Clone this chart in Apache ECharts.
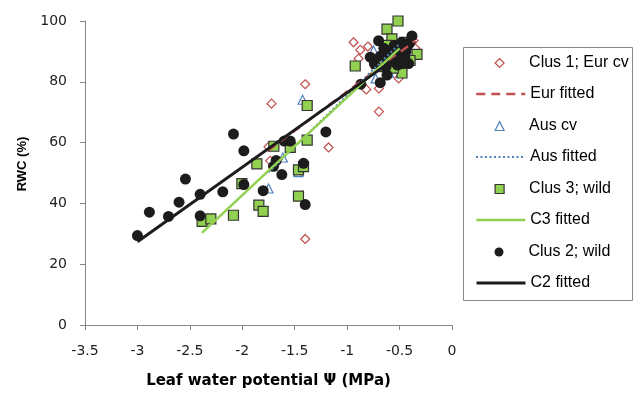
<!DOCTYPE html>
<html><head><meta charset="utf-8">
<script src="https://cdn.jsdelivr.net/npm/echarts@6/dist/echarts.min.js"></script>
<style>html,body{margin:0;padding:0;background:#fff}#c{width:639px;height:394px}</style>
</head><body><div id="c"></div>
<script>
var xTicks = [-3.5,-3,-2.5,-2,-1.5,-1,-0.5,0];
var yTicks = [0,20,40,60,80,100];
var seriesNames = ['Clus 1; Eur cv','Eur fitted','Aus cv','Aus fitted','Clus 3; wild','C3 fitted','Clus 2; wild','C2 fitted'];

var eurCv = [[-1.721,72.8],[-1.40,79.2],[-1.40,28.3],[-1.177,58.4],[-1.75,58.6],[-1.734,54.0],[-0.939,93.0],[-0.875,90.5],[-0.802,91.6],[-0.891,87.6],[-0.818,77.5],[-0.697,77.8],[-0.697,70.2],[-0.509,81.1],[-0.366,93.5],[-0.35,91.0],[-0.60,85.0],[-0.45,88.0],[-0.55,90.0]];
var eurFit = [[-1.75,57.5],[-0.35,93.5]];
var ausCv = [[-1.425,74.1],[-1.613,55.1],[-1.750,44.9],[-1.464,50.3],[-0.729,81.1],[-0.748,90.3],[-0.55,88.0],[-0.45,86.0],[-0.60,83.0]];
var ausFit = [[-1.75,50.2],[-0.5,92.5]];
var clus3 = [[-2.383,34.1],[-2.300,34.9],[-2.084,36.1],[-2.004,46.5],[-1.861,53.0],[-1.842,39.4],[-1.801,37.4],[-1.699,58.8],[-1.543,58.4],[-1.464,51.0],[-1.416,52.1],[-1.464,42.4],[-1.381,60.8],[-1.381,72.2],[-0.923,85.2],
  [-0.515,100],[-0.620,97.3],[-0.334,89.0],[-0.477,82.9],[-0.573,94.1],[-0.72,86.0],[-0.65,85.0],[-0.60,88.0],[-0.50,91.0],[-0.45,93.0],[-0.55,89.0],[-0.40,87.0],[-0.68,87.5],[-0.56,84.5],[-0.47,88.5],[-0.62,92.0]];
var c3Fit = [[-2.385,30.3],[-0.5,91.0]];
var clus2 = [[-3.0,29.4],[-2.886,37.1],[-2.704,35.7],[-2.603,40.4],[-2.542,48.0],[-2.402,43.0],[-2.402,35.9],[-2.186,43.8],[-2.084,62.8],[-1.985,57.3],[-1.985,46.2],[-1.801,44.2],[-1.702,52.2],[-1.677,54.1],[-1.623,49.5],[-1.600,60.5],[-1.543,60.5],[-1.416,53.2],[-1.400,39.6],[-1.203,63.5],[-0.869,79.2],[-0.684,79.7],[-0.620,82.2],
  [-0.78,88.1],[-0.70,93.5],[-0.382,95.1],[-0.414,86.0],[-0.65,91.0],[-0.60,89.0],[-0.55,92.0],[-0.50,90.0],[-0.45,88.0],[-0.42,92.0],[-0.55,86.5],[-0.62,87.0],[-0.48,93.0],[-0.52,85.5],[-0.58,90.5],[-0.44,90.0],[-0.68,88.5],[-0.74,86.0],[-0.47,86.0],[-0.53,88.0],[-0.40,93.0],[-0.63,84.8]];
var c2Fit = [[-3.0,27.4],[-0.5,88.7]];

var TICKFONT = 'DejaVu Sans';
var FONT = 'Liberation Sans';
var axisCol = '#868686';
var RED = '#C0504D', BLUE = '#4F81BD', GREEN = '#92D050', BLACK = '#1c1c1c';

var lineStyles = {
  1: {color:RED, width:2.5, type:[9,6]},
  3: {color:BLUE, width:2, type:[2,2.5]},
  5: {color:GREEN, width:2.5, type:'solid'},
  7: {color:BLACK, width:3, type:'solid'}
};
var rowCenters = [63, 94, 126, 157, 189, 220, 252, 283];
var legends = seriesNames.map(function(n, i){
  var isLine = !!lineStyles[i];
  var item = {name:n};
  if (isLine) {
    item.itemStyle = {opacity:0};
    item.lineStyle = {color:lineStyles[i].color, width:lineStyles[i].width, type:lineStyles[i].type};
  } else {
    item.itemStyle = {borderWidth: i===6 ? 0 : 1.2};
  }
  return {
    data:[item], orient:'horizontal', selectedMode:false,
    left: isLine ? 475 : 494.5, top: rowCenters[i] - 8,
    itemWidth: isLine ? 49 : 9, itemHeight: isLine ? 10 : 9, padding:0,
    textStyle:{fontFamily:FONT, fontSize:16, lineHeight:16, color:'#000', padding: isLine ? [0,0,0,0] : [0,0,0,20]}
  };
});

var chart = echarts.init(document.getElementById('c'), null, {renderer:'canvas'});
chart.setOption({
  animation:false,
  backgroundColor:'#fff',
  textStyle:{fontFamily:FONT},
  grid:{left:85, right:187, top:21, bottom:64},
  xAxis:{type:'value', min:xTicks[0], max:xTicks[xTicks.length-1], interval:0.5,
    name:'Leaf water potential \u03A8 (MPa)', nameLocation:'middle', nameGap:49,
    nameTextStyle:{fontFamily:'DejaVu Sans', fontSize:15, fontWeight:'bold', color:'#000'},
    axisLine:{onZero:false, lineStyle:{color:axisCol}}, axisTick:{show:true, length:5, lineStyle:{color:axisCol}},
    axisLabel:{fontFamily:TICKFONT, fontSize:14, color:'#222', margin:19, formatter:function(v){return String(v);}},
    splitLine:{show:false}},
  yAxis:{type:'value', min:yTicks[0], max:yTicks[yTicks.length-1], interval:20,
    name:'RWC (%)', nameLocation:'middle', nameGap:55, nameRotate:90,
    nameTextStyle:{fontFamily:FONT, fontSize:13, fontWeight:'bold', color:'#000', padding:[0,0,0,18]},
    axisLine:{show:true, onZero:false, lineStyle:{color:axisCol}}, axisTick:{show:true, length:5, lineStyle:{color:axisCol}},
    axisLabel:{fontFamily:TICKFONT, fontSize:14, color:'#222', margin:18},
    splitLine:{show:false}},
  legend:legends,
  graphic:[{type:'rect', shape:{x:463.5, y:47.5, width:169, height:253}, style:{fill:'none', stroke:'#888', lineWidth:1}, silent:true}],
  series:[
    {name:seriesNames[0], type:'scatter', data:eurCv, symbol:'diamond', symbolSize:9,
      itemStyle:{color:'#fff', borderColor:RED, borderWidth:1.2, opacity:1}},
    {name:seriesNames[1], type:'line', data:eurFit, symbol:'none',
      lineStyle:lineStyles[1], itemStyle:{color:RED}},
    {name:seriesNames[2], type:'scatter', data:ausCv, symbol:'triangle', symbolSize:9,
      itemStyle:{color:'#fff', borderColor:BLUE, borderWidth:1.2, opacity:1}},
    {name:seriesNames[3], type:'line', data:ausFit, symbol:'none',
      lineStyle:lineStyles[3], itemStyle:{color:BLUE}},
    {name:seriesNames[4], type:'scatter', data:clus3, symbol:'rect', symbolSize:10,
      itemStyle:{color:GREEN, borderColor:'#333', borderWidth:1.2, opacity:1}},
    {name:seriesNames[5], type:'line', data:c3Fit, symbol:'none',
      lineStyle:lineStyles[5], itemStyle:{color:GREEN}},
    {name:seriesNames[6], type:'scatter', data:clus2, symbol:'circle', symbolSize:11,
      itemStyle:{color:BLACK, opacity:1}},
    {name:seriesNames[7], type:'line', data:c2Fit, symbol:'none',
      lineStyle:lineStyles[7], itemStyle:{color:BLACK}}
  ]
});
</script></body></html>
